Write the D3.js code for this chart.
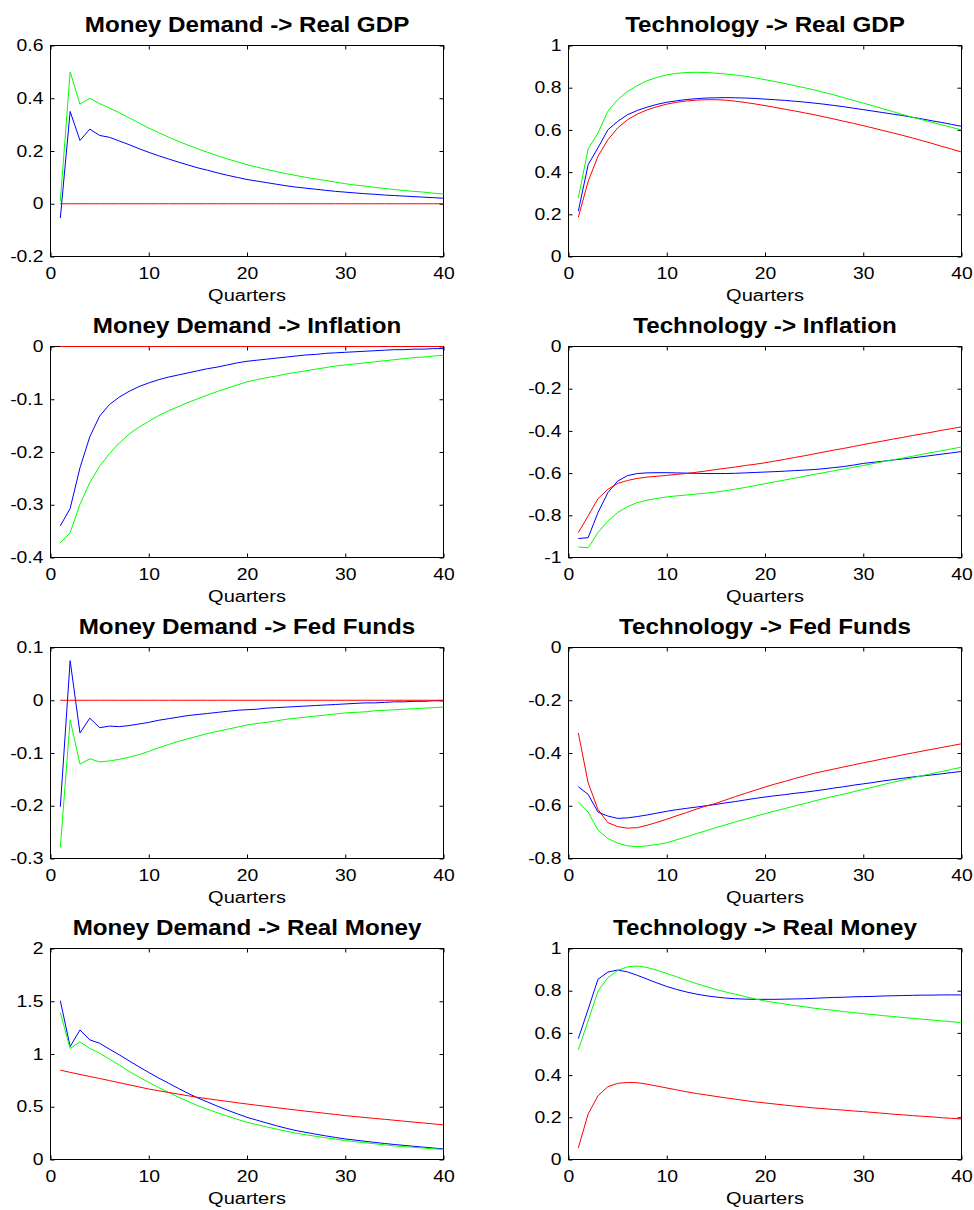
<!DOCTYPE html>
<html>
<head>
<meta charset="utf-8">
<script src="https://cdn.jsdelivr.net/npm/d3@7"></script>
<style>
body { margin: 0; background: #fff; }
svg { display: block; }
text { font-family: "Liberation Sans", Arial, Helvetica, sans-serif; fill: #000; }
.tick text { font-size: 16px; }
.title { font-size: 22px; font-weight: bold; }
.xlabel { font-size: 16px; }
</style>
</head>
<body>
<svg id="chart"></svg>
<script>
var width = 974;
var height = 1210;

// quarters 1..40
var quarters = [1,2,3,4,5,6,7,8,9,10,11,12,13,14,15,16,17,18,19,20,
                21,22,23,24,25,26,27,28,29,30,31,32,33,34,35,36,37,38,39,40];
var x_ticks = [0, 10, 20, 30, 40];

var zeros = [0,0,0,0,0,0,0,0,0,0,0,0,0,0,0,0,0,0,0,0,
             0,0,0,0,0,0,0,0,0,0,0,0,0,0,0,0,0,0,0,0];

// Money Demand -> Real GDP
var md_gdp_blue = [-0.054,0.350,0.240,0.283,0.259,0.252,0.238,0.224,0.209,0.195,0.182,0.170,0.158,0.147,0.136,0.127,0.117,0.108,0.100,0.092,
                   0.086,0.080,0.074,0.068,0.063,0.059,0.055,0.051,0.047,0.044,0.041,0.038,0.036,0.033,0.031,0.029,0.027,0.025,0.023,0.021];
var md_gdp_green = [0.010,0.500,0.378,0.400,0.380,0.363,0.345,0.326,0.306,0.287,0.270,0.253,0.237,0.222,0.208,0.195,0.182,0.170,0.159,0.148,
                    0.139,0.130,0.122,0.114,0.107,0.100,0.094,0.088,0.082,0.076,0.071,0.067,0.062,0.058,0.054,0.050,0.047,0.044,0.040,0.037];
var md_gdp_red = zeros;
var md_gdp_ticks = [-0.2, 0, 0.2, 0.4, 0.6];

// Technology -> Real GDP
var tech_gdp_blue = [0.215,0.435,0.515,0.600,0.640,0.672,0.692,0.708,0.721,0.731,0.738,0.744,0.748,0.751,0.752,0.753,0.752,0.751,0.749,0.746,
                     0.743,0.740,0.736,0.732,0.727,0.722,0.716,0.710,0.703,0.696,0.689,0.682,0.675,0.668,0.660,0.652,0.643,0.635,0.626,0.617];
var tech_gdp_green = [0.278,0.510,0.585,0.688,0.743,0.782,0.810,0.833,0.849,0.861,0.868,0.872,0.873,0.872,0.869,0.865,0.860,0.854,0.846,0.838,
                      0.829,0.820,0.810,0.800,0.790,0.778,0.766,0.753,0.740,0.727,0.714,0.700,0.687,0.673,0.660,0.648,0.636,0.624,0.612,0.600];
var tech_gdp_red = [0.186,0.356,0.475,0.553,0.609,0.648,0.675,0.695,0.710,0.722,0.731,0.737,0.741,0.743,0.743,0.741,0.736,0.730,0.723,0.715,
                    0.707,0.698,0.690,0.681,0.672,0.662,0.652,0.641,0.631,0.620,0.609,0.597,0.586,0.574,0.562,0.549,0.536,0.522,0.509,0.495];
var tech_gdp_ticks = [0, 0.2, 0.4, 0.6, 0.8, 1];

// Money Demand -> Inflation
var md_inf_blue = [-0.340,-0.307,-0.230,-0.171,-0.132,-0.110,-0.096,-0.085,-0.076,-0.069,-0.063,-0.058,-0.054,-0.050,-0.046,-0.042,-0.039,-0.035,-0.031,-0.028,
                   -0.026,-0.024,-0.022,-0.020,-0.018,-0.016,-0.015,-0.013,-0.012,-0.011,-0.010,-0.009,-0.008,-0.007,-0.006,-0.006,-0.005,-0.005,-0.004,-0.004];
var md_inf_green = [-0.372,-0.353,-0.299,-0.258,-0.227,-0.203,-0.183,-0.166,-0.153,-0.142,-0.131,-0.122,-0.114,-0.106,-0.099,-0.092,-0.085,-0.079,-0.073,-0.067,
                    -0.063,-0.059,-0.056,-0.052,-0.049,-0.046,-0.043,-0.040,-0.037,-0.035,-0.033,-0.031,-0.029,-0.027,-0.025,-0.023,-0.021,-0.020,-0.018,-0.017];
var md_inf_red = zeros;
var md_inf_ticks = [-0.4, -0.3, -0.2, -0.1, 0];

// Technology -> Inflation
var tech_inf_blue = [-0.910,-0.906,-0.787,-0.693,-0.638,-0.612,-0.602,-0.599,-0.598,-0.598,-0.599,-0.600,-0.601,-0.602,-0.602,-0.602,-0.601,-0.599,-0.597,-0.595,
                     -0.593,-0.591,-0.588,-0.586,-0.583,-0.579,-0.574,-0.569,-0.562,-0.554,-0.549,-0.544,-0.538,-0.533,-0.528,-0.522,-0.516,-0.510,-0.504,-0.498];
var tech_inf_green = [-0.950,-0.954,-0.882,-0.827,-0.787,-0.759,-0.740,-0.728,-0.720,-0.713,-0.708,-0.704,-0.699,-0.695,-0.690,-0.683,-0.676,-0.668,-0.659,-0.650,
                      -0.641,-0.633,-0.624,-0.615,-0.606,-0.598,-0.589,-0.581,-0.572,-0.564,-0.555,-0.546,-0.537,-0.529,-0.520,-0.511,-0.502,-0.494,-0.485,-0.476];
var tech_inf_red = [-0.882,-0.803,-0.721,-0.677,-0.649,-0.635,-0.625,-0.619,-0.615,-0.611,-0.606,-0.602,-0.596,-0.590,-0.583,-0.577,-0.571,-0.564,-0.558,-0.551,
                    -0.543,-0.535,-0.526,-0.518,-0.509,-0.500,-0.491,-0.483,-0.474,-0.465,-0.456,-0.448,-0.439,-0.431,-0.422,-0.414,-0.406,-0.397,-0.389,-0.381];
var tech_inf_ticks = [-1, -0.8, -0.6, -0.4, -0.2, 0];

// Money Demand -> Fed Funds
var md_ff_blue = [-0.202,0.075,-0.062,-0.034,-0.052,-0.049,-0.050,-0.048,-0.045,-0.042,-0.038,-0.035,-0.032,-0.029,-0.027,-0.025,-0.023,-0.021,-0.019,-0.018,
                  -0.017,-0.015,-0.014,-0.013,-0.012,-0.011,-0.010,-0.009,-0.008,-0.007,-0.006,-0.005,-0.005,-0.004,-0.003,-0.003,-0.002,-0.002,-0.001,-0.001];
var md_ff_green = [-0.279,-0.037,-0.121,-0.111,-0.117,-0.115,-0.112,-0.108,-0.103,-0.097,-0.090,-0.084,-0.078,-0.073,-0.068,-0.063,-0.059,-0.055,-0.051,-0.047,
                   -0.044,-0.042,-0.039,-0.036,-0.034,-0.032,-0.030,-0.028,-0.026,-0.024,-0.023,-0.022,-0.020,-0.019,-0.018,-0.017,-0.016,-0.015,-0.014,-0.013];
var md_ff_red = zeros;
var md_ff_ticks = [-0.3, -0.2, -0.1, 0, 0.1];

// Technology -> Fed Funds
var tech_ff_blue = [-0.528,-0.557,-0.624,-0.639,-0.648,-0.646,-0.641,-0.635,-0.628,-0.621,-0.615,-0.610,-0.605,-0.600,-0.595,-0.589,-0.584,-0.578,-0.572,-0.567,
                    -0.562,-0.558,-0.553,-0.549,-0.544,-0.539,-0.533,-0.528,-0.522,-0.517,-0.512,-0.506,-0.501,-0.496,-0.491,-0.487,-0.483,-0.479,-0.474,-0.470];
var tech_ff_green = [-0.585,-0.624,-0.692,-0.724,-0.742,-0.752,-0.755,-0.752,-0.747,-0.740,-0.729,-0.718,-0.706,-0.695,-0.683,-0.672,-0.661,-0.651,-0.640,-0.630,
                     -0.620,-0.611,-0.601,-0.592,-0.582,-0.573,-0.564,-0.556,-0.547,-0.538,-0.529,-0.520,-0.511,-0.503,-0.494,-0.486,-0.478,-0.470,-0.462,-0.454];
var tech_ff_red = [-0.324,-0.513,-0.614,-0.664,-0.679,-0.685,-0.683,-0.674,-0.663,-0.651,-0.638,-0.626,-0.613,-0.601,-0.591,-0.578,-0.565,-0.553,-0.541,-0.529,
                   -0.518,-0.508,-0.497,-0.487,-0.477,-0.469,-0.461,-0.453,-0.445,-0.437,-0.430,-0.422,-0.415,-0.407,-0.400,-0.393,-0.386,-0.379,-0.372,-0.365];
var tech_ff_ticks = [-0.8, -0.6, -0.4, -0.2, 0];

// Money Demand -> Real Money
var md_m_blue = [1.505,1.070,1.228,1.134,1.102,1.046,0.992,0.935,0.879,0.825,0.773,0.724,0.675,0.627,0.583,0.544,0.505,0.468,0.433,0.400,
                 0.373,0.346,0.320,0.296,0.274,0.257,0.240,0.224,0.209,0.195,0.184,0.173,0.162,0.152,0.142,0.134,0.125,0.117,0.109,0.100];
var md_m_green = [1.392,1.052,1.115,1.052,1.008,0.951,0.895,0.835,0.782,0.731,0.682,0.636,0.592,0.551,0.510,0.475,0.442,0.411,0.381,0.353,
                  0.331,0.309,0.288,0.268,0.249,0.234,0.220,0.206,0.193,0.180,0.169,0.159,0.149,0.139,0.129,0.122,0.115,0.108,0.101,0.095];
var md_m_red = [0.847,0.826,0.806,0.787,0.768,0.748,0.728,0.708,0.688,0.668,0.652,0.636,0.620,0.604,0.589,0.576,0.563,0.551,0.538,0.526,
                0.514,0.503,0.491,0.480,0.469,0.458,0.448,0.437,0.427,0.416,0.407,0.398,0.389,0.381,0.372,0.363,0.354,0.346,0.337,0.328];
var md_m_ticks = [0, 0.5, 1, 1.5, 2];

// Technology -> Real Money
var tech_m_blue = [0.573,0.712,0.854,0.888,0.898,0.889,0.873,0.855,0.837,0.820,0.806,0.794,0.784,0.776,0.770,0.765,0.762,0.760,0.759,0.759,
                   0.759,0.760,0.761,0.762,0.764,0.766,0.768,0.769,0.771,0.772,0.773,0.775,0.776,0.777,0.778,0.779,0.779,0.780,0.780,0.780];
var tech_m_green = [0.520,0.657,0.798,0.861,0.896,0.913,0.917,0.910,0.897,0.882,0.866,0.849,0.834,0.820,0.806,0.794,0.783,0.772,0.761,0.751,
                    0.744,0.737,0.730,0.724,0.717,0.712,0.707,0.701,0.696,0.691,0.687,0.682,0.678,0.673,0.669,0.665,0.661,0.657,0.653,0.649];
var tech_m_red = [0.055,0.216,0.302,0.345,0.361,0.365,0.364,0.357,0.348,0.339,0.330,0.321,0.313,0.306,0.299,0.292,0.286,0.279,0.273,0.268,
                  0.263,0.258,0.253,0.249,0.244,0.241,0.237,0.234,0.230,0.227,0.223,0.219,0.215,0.212,0.208,0.205,0.202,0.198,0.195,0.192];
var tech_m_ticks = [0, 0.2, 0.4, 0.6, 0.8, 1];

var titles = ["Money Demand -> Real GDP", "Technology -> Real GDP",
              "Money Demand -> Inflation", "Technology -> Inflation",
              "Money Demand -> Fed Funds", "Technology -> Fed Funds",
              "Money Demand -> Real Money", "Technology -> Real Money"];

var panels = [
  { title: titles[0], ticks: md_gdp_ticks, series: [md_gdp_blue, md_gdp_green, md_gdp_red] },
  { title: titles[1], ticks: tech_gdp_ticks, series: [tech_gdp_blue, tech_gdp_green, tech_gdp_red] },
  { title: titles[2], ticks: md_inf_ticks, series: [md_inf_blue, md_inf_green, md_inf_red] },
  { title: titles[3], ticks: tech_inf_ticks, series: [tech_inf_blue, tech_inf_green, tech_inf_red] },
  { title: titles[4], ticks: md_ff_ticks, series: [md_ff_blue, md_ff_green, md_ff_red] },
  { title: titles[5], ticks: tech_ff_ticks, series: [tech_ff_blue, tech_ff_green, tech_ff_red] },
  { title: titles[6], ticks: md_m_ticks, series: [md_m_blue, md_m_green, md_m_red] },
  { title: titles[7], ticks: tech_m_ticks, series: [tech_m_blue, tech_m_green, tech_m_red] }
];
var colors = ["#0000ff", "#00ff00", "#ff0000"];

// layout
var plot_w = 393;
var plot_h = 211;
var col_left = [50.5, 568.5];
var row_top = [45.5, 346.5, 647.5, 948.5];
var tick_len = 4;
var text_stretch = 1.21;

var svg = d3.select("#chart").attr("width", width).attr("height", height);

var x = d3.scaleLinear().domain([0, 40]).range([0, plot_w]);

function fmt(d) {
  // matlab style labels, plain hyphen for minus
  return String(+d.toFixed(2));
}

function stretch_text(axis_g) {
  axis_g.selectAll("text").each(function () {
    var t = d3.select(this);
    var tx = +t.attr("x") || 0;
    t.attr("x", 0).attr("transform", "translate(" + tx + ",0) scale(" + text_stretch + ",1)");
  });
}

panels.forEach(function (p, i) {
  var left = col_left[i % 2];
  var top = row_top[Math.floor(i / 2)];
  var g = svg.append("g").attr("transform", "translate(" + left + "," + top + ")");

  var y = d3.scaleLinear()
    .domain([p.ticks[0], p.ticks[p.ticks.length - 1]])
    .range([plot_h, 0]);

  // frame
  g.append("rect")
    .attr("width", plot_w)
    .attr("height", plot_h)
    .attr("fill", "none")
    .attr("stroke", "#000")
    .attr("stroke-width", 1);

  var xb = g.append("g").attr("transform", "translate(0," + plot_h + ")")
    .call(d3.axisBottom(x).tickValues(x_ticks).tickSize(-tick_len).tickPadding(11).tickFormat(fmt));
  var xt = g.append("g")
    .call(d3.axisTop(x).tickValues(x_ticks).tickSize(-tick_len).tickFormat(""));
  var yl = g.append("g")
    .call(d3.axisLeft(y).tickValues(p.ticks).tickSize(-tick_len).tickPadding(7).tickFormat(fmt));
  var yr = g.append("g").attr("transform", "translate(" + plot_w + ",0)")
    .call(d3.axisRight(y).tickValues(p.ticks).tickSize(-tick_len).tickFormat(""));

  [xb, xt, yl, yr].forEach(function (a) {
    a.select(".domain").remove();
    a.selectAll("line").attr("stroke", "#000");
  });
  stretch_text(xb);
  stretch_text(yl);

  var line = d3.line()
    .x(function (d, k) { return x(quarters[k]); })
    .y(function (d) { return y(d); });

  p.series.forEach(function (s, k) {
    g.append("path")
      .datum(s)
      .attr("d", line)
      .attr("fill", "none")
      .attr("stroke", colors[k])
      .attr("stroke-width", 1);
  });

  g.append("text")
    .attr("class", "title")
    .attr("text-anchor", "middle")
    .attr("transform", "translate(" + plot_w / 2 + ",-14) scale(1.1,1)")
    .text(p.title);

  g.append("text")
    .attr("class", "xlabel")
    .attr("text-anchor", "middle")
    .attr("transform", "translate(" + plot_w / 2 + "," + (plot_h + 44) + ") scale(1.25,1)")
    .text("Quarters");
});
</script>
</body>
</html>
